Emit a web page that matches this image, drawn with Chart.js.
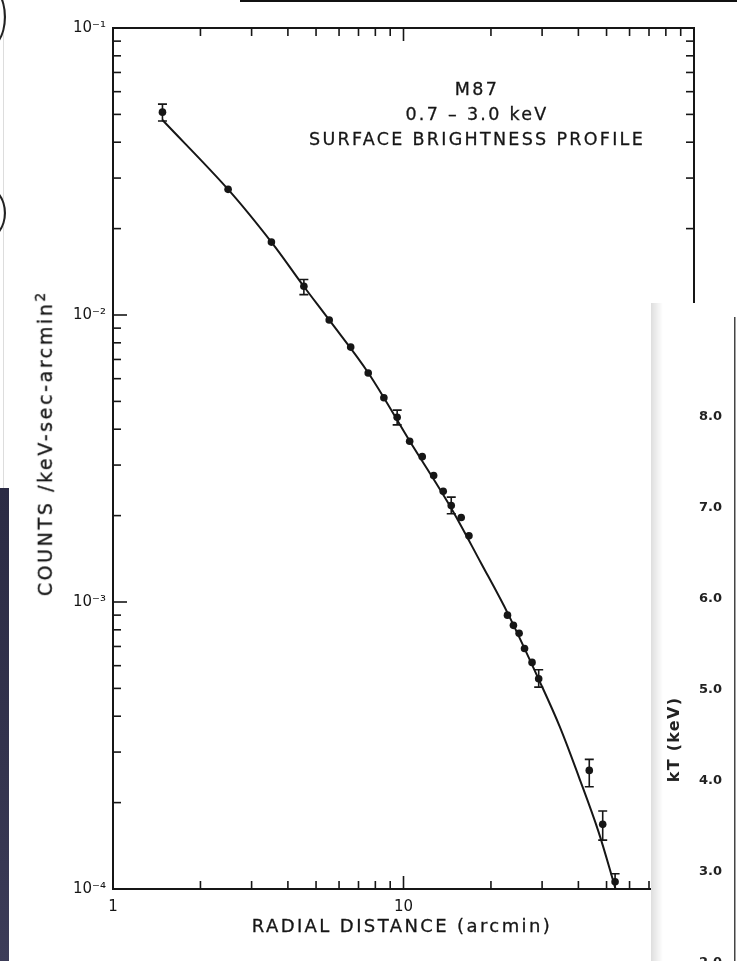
<!DOCTYPE html>
<html>
<head>
<meta charset="utf-8">
<script src="https://cdn.jsdelivr.net/npm/chart.js@4.4.1/dist/chart.umd.min.js"></script>
<style>
  html, body { margin: 0; padding: 0; background: #fff; }
  body { width: 737px; height: 961px; position: relative; overflow: hidden; font-family: "DejaVu Sans", sans-serif; color: #161616; }
  #mainWrap { position: absolute; left: 0; top: 0; width: 737px; height: 961px; }
  .txt { position: absolute; white-space: nowrap; text-align: center; -webkit-text-stroke: 0.3px #161616; }
  #note { left: 290px; top: 77px; width: 374px; font-size: 17.5px; line-height: 25px; letter-spacing: 2.3px; }
  #xTitle { left: 230px; top: 915px; width: 344px; font-size: 18px; letter-spacing: 2.4px; }
  #yTitle { left: -126px; top: 431px; width: 340px; font-size: 19px; letter-spacing: 2.6px; transform: rotate(-90deg); }
  #yTitle sup { font-size: 14px; }
  /* collage bits around the figure */
  #topBar { position: absolute; left: 240px; top: 0; width: 497px; height: 2px; background: #111; }
  #leftEdge { position: absolute; left: 3px; top: 0; width: 1px; height: 492px; background: #ddd; }
  #leftDark { position: absolute; left: 0; top: 488px; width: 9px; height: 473px; background: linear-gradient(180deg, #2b2b44, #34344e 60%, #3c3c58); }
  .arc { position: absolute; border: 2px solid #222; border-radius: 50%; }
  #kPanel { position: absolute; left: 651px; top: 303px; width: 86px; height: 700px; background: #fff; overflow: hidden; }
  #kShade { position: absolute; left: 0; top: 0; width: 12px; height: 100%; background: linear-gradient(90deg, rgba(0,0,0,0.13), rgba(0,0,0,0)); }
  #kTitle { left: -35px; top: 427px; width: 115px; font-size: 16px; font-weight: bold; letter-spacing: 1.3px; transform: rotate(-90deg); -webkit-text-stroke: 0; color: #222; }
</style>
</head>
<body>
<div id="leftEdge"></div>
<div id="topBar"></div>
<div class="arc" style="left:-40px; top:-18px; width:42px; height:66px;"></div>
<div class="arc" style="left:-36px; top:186px; width:38px; height:50px;"></div>
<div id="leftDark"></div>

<div id="mainWrap"><canvas id="profileChart" width="737" height="961"></canvas></div>
<div id="note" class="txt">M87<br>0.7 – 3.0 keV<br>SURFACE BRIGHTNESS PROFILE</div>
<div id="xTitle" class="txt">RADIAL DISTANCE (arcmin)</div>
<div id="yTitle" class="txt">COUNTS /keV-sec-arcmin<sup>2</sup></div>

<div id="kPanel">
  <canvas id="kChart" width="86" height="700"></canvas>
  <div id="kShade"></div>
  <div id="kTitle" class="txt">kT (keV)</div>
</div>

<script>
const ink = '#161616';

// measured points: radius (arcmin) and surface brightness (counts/keV-sec-arcmin^2)
const pointR = [1.48, 2.49, 3.51, 4.54, 5.55, 6.58, 7.56, 8.56, 9.51, 10.5, 11.6, 12.7, 13.7,
    14.6, 15.8, 16.8, 22.8, 23.9, 25.0, 26.1, 27.7, 29.2, 43.6, 48.5, 53.5];
const pointS = [0.0509, 0.0274, 0.01795, 0.01259, 0.00961, 0.00773, 0.00628, 0.00515, 0.00440,
    0.00363, 0.00321, 0.00276, 0.00243, 0.00217, 0.00197, 0.00170, 9.0e-4, 8.29e-4, 7.78e-4,
    6.89e-4, 6.16e-4, 5.40e-4, 2.59e-4, 1.68e-4, 1.06e-4];
// error bar ends (null = no bar drawn)
const errHi = [0.0543, null, null, 0.0133, null, null, null, null, 0.00466, null, null, null, null,
    0.00232, null, null, null, null, null, null, null, 5.81e-4, 2.83e-4, 1.87e-4, 1.13e-4];
const errLo = [0.0474, null, null, 0.01178, null, null, null, null, 0.00414, null, null, null, null,
    0.00203, null, null, null, null, null, null, null, 5.05e-4, 2.27e-4, 1.48e-4, 1.0e-4];

// fitted model curve
const fitR = [1.48, 2.49, 3.51, 4.54, 5.55, 7.56, 10.5, 14.3, 18.5, 22.9, 29.5, 34.5, 40.2, 46.9, 53.7];
const fitS = [0.0478, 0.0274, 0.01795, 0.01257, 0.00961, 0.00629, 0.00364, 0.00220, 0.001365,
    9.09e-4, 5.26e-4, 3.68e-4, 2.45e-4, 1.585e-4, 1.0e-4];

// axis ticks
const xTicks = [1, 2, 3, 4, 5, 6, 7, 8, 9, 10, 20, 30, 40, 50, 60, 70, 80, 90, 100];
const xLabelVals = [1, 10];
const xLabelText = ['1', '10'];
const yTicks = [1e-4, 2e-4, 3e-4, 4e-4, 5e-4, 6e-4, 7e-4, 8e-4, 9e-4,
    1e-3, 2e-3, 3e-3, 4e-3, 5e-3, 6e-3, 7e-3, 8e-3, 9e-3,
    1e-2, 2e-2, 3e-2, 4e-2, 5e-2, 6e-2, 7e-2, 8e-2, 9e-2, 1e-1];
const yLabelVals = [1e-4, 1e-3, 1e-2, 1e-1];
const yLabelText = ['10⁻⁴', '10⁻³', '10⁻²', '10⁻¹'];

// neighbouring temperature panel (partly covered)
const kTicks = [2, 3, 4, 5, 6, 7, 8];
const kLabelText = ['2.0', '3.0', '4.0', '5.0', '6.0', '7.0', '8.0'];

const sameLog = (a, b) => Math.abs(Math.log10(a) - Math.log10(b)) < 1e-6;
const labelFor = (vals, texts) => (value) => {
    const i = vals.findIndex(v => sameLog(v, value));
    return i < 0 ? '' : texts[i];
};
const isDecade = (v) => Math.abs(Math.log10(v) - Math.round(Math.log10(v))) < 1e-6;

// --- frame with inward ticks on all four sides ---
const frameTicks = {
    id: 'frameTicks',
    afterDraw(chart) {
        const { ctx, chartArea: a, scales: { x, y } } = chart;
        const seg = (x1, y1, x2, y2) => { ctx.beginPath(); ctx.moveTo(x1, y1); ctx.lineTo(x2, y2); ctx.stroke(); };
        ctx.save();
        ctx.strokeStyle = ink;
        ctx.lineWidth = 2;
        ctx.strokeRect(a.left, a.top, a.right - a.left, a.bottom - a.top);
        ctx.lineWidth = 1.6;
        xTicks.forEach(v => {
            const px = x.getPixelForValue(v);
            const len = isDecade(v) ? 13 : 8;
            seg(px, a.bottom, px, a.bottom - len);
            seg(px, a.top, px, a.top + len);
        });
        yTicks.forEach(v => {
            const py = y.getPixelForValue(v);
            const len = isDecade(v) ? 14 : 8;
            seg(a.left, py, a.left + len, py);
            seg(a.right, py, a.right - len, py);
        });
        ctx.restore();
    }
};

// --- error bars with caps ---
const errorBars = {
    id: 'errorBars',
    afterDatasetsDraw(chart) {
        const { ctx, scales: { x, y } } = chart;
        ctx.save();
        ctx.strokeStyle = ink;
        ctx.lineWidth = 1.6;
        pointR.forEach((r, i) => {
            if (errHi[i] == null) return;
            const px = x.getPixelForValue(r);
            const top = y.getPixelForValue(errHi[i]);
            const bot = y.getPixelForValue(errLo[i]);
            ctx.beginPath();
            ctx.moveTo(px, top); ctx.lineTo(px, bot);
            ctx.moveTo(px - 4.5, top); ctx.lineTo(px + 4.5, top);
            ctx.moveTo(px - 4.5, bot); ctx.lineTo(px + 4.5, bot);
            ctx.stroke();
        });
        ctx.restore();
    }
};

const tickFont = { family: '"DejaVu Sans", sans-serif', size: 15 };

new Chart(document.getElementById('profileChart'), {
    type: 'scatter',
    data: {
        datasets: [
            {
                label: 'model',
                data: fitR.map((r, i) => ({ x: r, y: fitS[i] })),
                showLine: true,
                borderColor: ink,
                borderWidth: 2,
                pointRadius: 0,
                tension: 0.35
            },
            {
                label: 'data',
                data: pointR.map((r, i) => ({ x: r, y: pointS[i] })),
                pointRadius: 3.8,
                pointBackgroundColor: ink,
                pointBorderColor: ink,
                pointBorderWidth: 0
            }
        ]
    },
    options: {
        responsive: false,
        devicePixelRatio: 1,
        animation: false,
        layout: { padding: { top: 28, right: 43, left: 0, bottom: 0 } },
        plugins: { legend: { display: false }, tooltip: { enabled: false } },
        scales: {
            x: {
                type: 'logarithmic',
                min: 1,
                max: 100,
                grid: { display: false, drawTicks: false },
                border: { display: false },
                afterBuildTicks: (s) => { s.ticks = xTicks.map(v => ({ value: v })); },
                afterFit: (s) => { s.height = 72; },
                ticks: {
                    autoSkip: false,
                    maxRotation: 0,
                    padding: 9,
                    color: ink,
                    font: tickFont,
                    callback: labelFor(xLabelVals, xLabelText)
                }
            },
            y: {
                type: 'logarithmic',
                min: 1e-4,
                max: 1e-1,
                grid: { display: false, drawTicks: false },
                border: { display: false },
                afterBuildTicks: (s) => { s.ticks = yTicks.map(v => ({ value: v })); },
                afterFit: (s) => { s.width = 113; },
                ticks: {
                    autoSkip: false,
                    padding: 7,
                    color: ink,
                    font: tickFont,
                    callback: labelFor(yLabelVals, yLabelText)
                }
            }
        }
    },
    plugins: [errorBars, frameTicks]
});

// --- partial kT panel on the right ---
new Chart(document.getElementById('kChart'), {
    type: 'scatter',
    data: { datasets: [{ data: [] }] },
    options: {
        responsive: false,
        devicePixelRatio: 1,
        animation: false,
        layout: { padding: { top: 15, right: 2, bottom: 20, left: 0 } },
        plugins: { legend: { display: false }, tooltip: { enabled: false } },
        scales: {
            x: { display: false, min: 0, max: 1 },
            y: {
                min: 1.777,
                max: 9.09,
                grid: { display: false },
                border: { display: true, color: '#444', width: 1.5 },
                afterBuildTicks: (s) => { s.ticks = kTicks.map(v => ({ value: v })); },
                afterFit: (s) => { s.width = 84; },
                ticks: {
                    autoSkip: false,
                    padding: 5,
                    color: '#222',
                    font: { family: '"DejaVu Sans", sans-serif', size: 13, weight: 'bold' },
                    callback: (v) => kLabelText[kTicks.indexOf(v)] ?? ''
                }
            }
        }
    }
});
</script>
</body>
</html>
